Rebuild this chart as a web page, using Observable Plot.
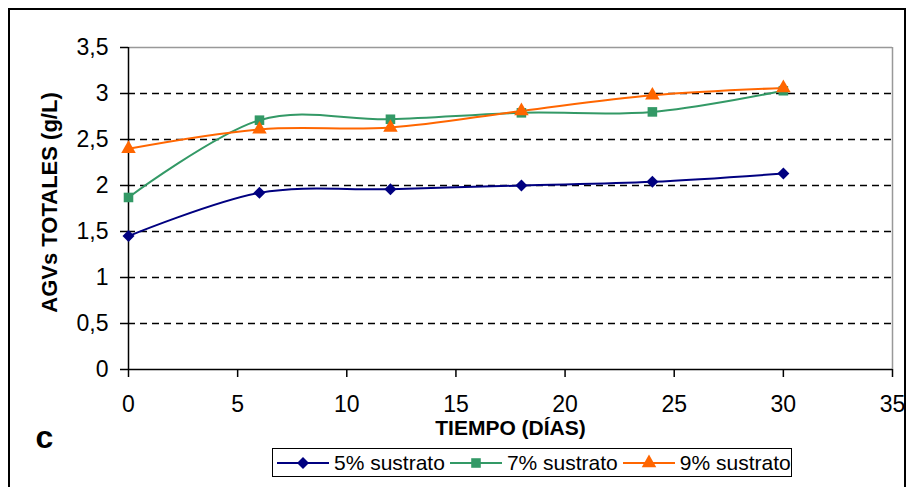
<!DOCTYPE html>
<html>
<head>
<meta charset="utf-8">
<script src="https://cdn.jsdelivr.net/npm/d3@7"></script>
<script src="https://cdn.jsdelivr.net/npm/@observablehq/plot@0.6"></script>
<style>
html, body { margin: 0; padding: 0; background: #fff; overflow: hidden; }
#wrap { position: relative; width: 910px; height: 487px; font-family: "Liberation Sans", Arial, sans-serif; }
#frame { position: absolute; left: 8px; top: 8px; width: 898px; height: 500px; border: 2px solid #000; box-sizing: border-box; pointer-events: none; }
#legend { position: absolute; left: 272px; top: 448px; width: 520px; height: 29px; border: 1.5px solid #000; box-sizing: border-box; display: flex; align-items: center; padding-left: 4px; background: #fff; font-size: 21px; color: #000; white-space: nowrap; }
#legend .item { display: flex; align-items: center; }
#legend svg { display: block; }
#legend span { margin-left: 5px; margin-right: 5px; }
</style>
</head>
<body>
<div id="wrap"><div id="chart"></div><div id="frame"></div><div id="legend"></div></div>
<script>
const days = [0, 6, 12, 18, 24, 30];
const seriesNames = ["5% sustrato", "7% sustrato", "9% sustrato"];
const s5 = [1.45, 1.92, 1.96, 2.00, 2.04, 2.13];
const s7 = [1.87, 2.71, 2.72, 2.79, 2.80, 3.03];
const s9 = [2.40, 2.61, 2.63, 2.81, 2.98, 3.06];
const xTicks = [0, 5, 10, 15, 20, 25, 30, 35];
const yTicks = [0, 0.5, 1, 1.5, 2, 2.5, 3, 3.5];
const gridValues = [0.5, 1, 1.5, 2, 2.5, 3];
const colors = ["#000080", "#339966", "#FF6600"];
const symbols = [d3.symbolDiamond2, d3.symbolSquare, d3.symbolTriangle];

const values = [s5, s7, s9];
const data = [];
seriesNames.forEach((name, i) => days.forEach((d, j) => data.push({series: name, day: d, value: values[i][j]})));

const fmt = d => String(d).replace(".", ",");
const R = 5.4;

const chart = Plot.plot({
  width: 910,
  height: 487,
  marginLeft: 128,
  marginRight: 18,
  marginTop: 47,
  marginBottom: 118,
  style: { fontFamily: "'Liberation Sans', Arial, sans-serif", background: "transparent", color: "#000", overflow: "visible" },
  x: { domain: [0, 35] },
  y: { domain: [0, 3.5] },
  color: { domain: seriesNames, range: colors },
  symbol: { domain: seriesNames, range: symbols },
  marks: [
    Plot.ruleY(gridValues, { stroke: "#000", strokeWidth: 1.5, strokeDasharray: "7,5" }),
    Plot.ruleY([3.5], { stroke: "#999", strokeWidth: 1.5 }),
    Plot.ruleX([35], { stroke: "#999", strokeWidth: 1.5 }),
    Plot.ruleX([0], { stroke: "#000", strokeWidth: 1.5 }),
    Plot.ruleY([0], { stroke: "#000", strokeWidth: 1.5 }),
    Plot.axisY(yTicks, { tickFormat: fmt, tickSize: 8, tickPadding: 12, fontSize: 23, label: null, stroke: "#000", strokeWidth: 1.5 }),
    Plot.axisX(xTicks, { tickFormat: fmt, tickSize: 8, tickPadding: 18, fontSize: 23, label: null, stroke: "#000", strokeWidth: 1.5 }),
    Plot.line(data, { x: "day", y: "value", z: "series", stroke: "series", strokeWidth: 2, curve: "cardinal" }),
    Plot.dot(data, { x: "day", y: "value", fill: "series", symbol: "series", r: R, stroke: "none" }),
    Plot.text(["TIEMPO (DÍAS)"], { frameAnchor: "bottom", dy: 59, textAnchor: "middle", lineAnchor: "middle", fontWeight: "bold", fontSize: 21 }),
    Plot.text(["AGVs TOTALES (g/L)"], { frameAnchor: "left", rotate: -90, dx: -79, dy: -6, textAnchor: "middle", lineAnchor: "middle", fontWeight: "bold", fontSize: 22 }),
    Plot.text(["c"], { frameAnchor: "bottom-left", dx: -84, dy: 68, textAnchor: "middle", lineAnchor: "middle", fontWeight: "bold", fontSize: 32 })
  ]
});
document.getElementById("chart").appendChild(chart);

// legend
const legend = d3.select("#legend");
seriesNames.forEach((name, i) => {
  const item = legend.append("div").attr("class", "item");
  const svg = item.append("svg").attr("width", 52).attr("height", 20);
  svg.append("line").attr("x1", 0).attr("x2", 52).attr("y1", 10).attr("y2", 10)
    .attr("stroke", colors[i]).attr("stroke-width", 2);
  svg.append("path").attr("transform", "translate(26,10)")
    .attr("d", d3.symbol(symbols[i], Math.PI * R * R)())
    .attr("fill", colors[i]);
  item.append("span").text(name);
});
</script>
</body>
</html>
